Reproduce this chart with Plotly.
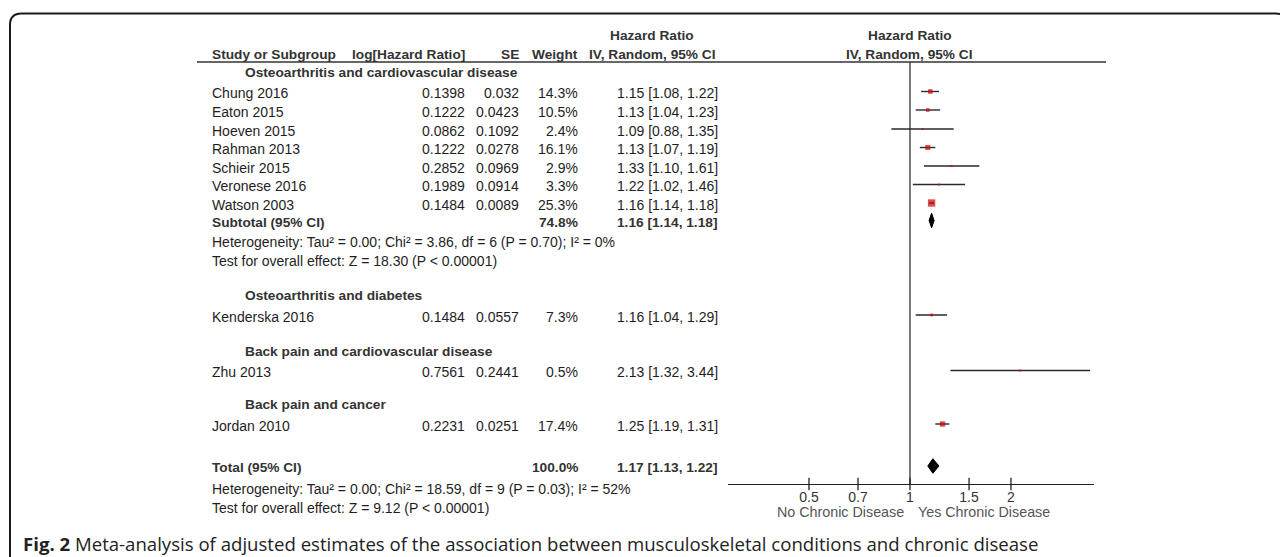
import math
import plotly.graph_objects as go

# ---------------- data ----------------
subgroups = ["Osteoarthritis and cardiovascular disease", "Osteoarthritis and diabetes",
             "Back pain and cardiovascular disease", "Back pain and cancer"]
studies = ["Chung 2016", "Eaton 2015", "Hoeven 2015", "Rahman 2013", "Schieir 2015",
           "Veronese 2016", "Watson 2003", "Kenderska 2016", "Zhu 2013", "Jordan 2010"]
study_group = [0, 0, 0, 0, 0, 0, 0, 1, 2, 3]
log_hr = [0.1398, 0.1222, 0.0862, 0.1222, 0.2852, 0.1989, 0.1484, 0.1484, 0.7561, 0.2231]
se = [0.032, 0.0423, 0.1092, 0.0278, 0.0969, 0.0914, 0.0089, 0.0557, 0.2441, 0.0251]
weight = [14.3, 10.5, 2.4, 16.1, 2.9, 3.3, 25.3, 7.3, 0.5, 17.4]
hr = [1.15, 1.13, 1.09, 1.13, 1.33, 1.22, 1.16, 1.16, 2.13, 1.25]
ci_lo = [1.08, 1.04, 0.88, 1.07, 1.10, 1.02, 1.14, 1.04, 1.32, 1.19]
ci_hi = [1.22, 1.23, 1.35, 1.19, 1.61, 1.46, 1.18, 1.29, 3.44, 1.31]

pooled_labels = ["Subtotal (95% CI)", "Total (95% CI)"]
pooled_weight = [74.8, 100.0]
pooled_hr = [1.16, 1.17]
pooled_lo = [1.14, 1.13]
pooled_hi = [1.18, 1.22]

het_texts = ["Heterogeneity: Tau\u00b2 = 0.00; Chi\u00b2 = 3.86, df = 6 (P = 0.70); I\u00b2 = 0%",
             "Heterogeneity: Tau\u00b2 = 0.00; Chi\u00b2 = 18.59, df = 9 (P = 0.03); I\u00b2 = 52%"]
test_texts = ["Test for overall effect: Z = 18.30 (P < 0.00001)",
              "Test for overall effect: Z = 9.12 (P < 0.00001)"]

tick_vals = [0.5, 0.7, 1, 1.5, 2]
tick_text = ["0.5", "0.7", "1", "1.5", "2"]
favours = ["No Chronic Disease", "Yes Chronic Disease"]
caption_bold = "Fig. 2"
caption = "Meta-analysis of adjusted estimates of the association between musculoskeletal conditions and chronic disease"

# ---------------- layout positions (page pixels) ----------------
W, H = 1288, 557
OFF = 8  # default body margin of the html page
study_y = [91.5, 110, 129, 147.5, 166, 184.5, 203, 315, 370.5, 424]
subgroup_y = [72.7, 295, 351, 404.3]
pooled_y = [220.5, 466]
het_y = [240.3, 487.3]
test_y = [259.3, 506]
hdr1_y, hdr2_y, hdr_line_y = 35, 54, 62
axis_y = 484
x_study, x_sub, x_log, x_se, x_w, x_ci = 210, 243, 467, 521, 579.5, 615
x_hdr_ci = 652
x_plot0, x_plot1 = 728, 1094
log_lo, log_hi = -1.249, 1.263

TFONT = "Liberation Sans, Arial, Helvetica, sans-serif"
TSIZE = 14
BSIZE = 13.7
TCOL = "#1e1e1e"
HCOL = "#333333"

fig = go.Figure()

def txt(x, y, s, anchor="left", bold=False, color=TCOL, size=None, family=TFONT, dy=1.5):
    if size is None:
        size = BSIZE if bold else TSIZE
    fig.add_annotation(x=x, y=y + dy, xref="x", yref="y", text=("<b>%s</b>" % s) if bold else s,
                       showarrow=False, xanchor=anchor, yanchor="middle",
                       font=dict(family=family, size=size, color=color))

# headers
txt(x_hdr_ci, hdr1_y, "Hazard Ratio", "center", True, HCOL, dy=0)
txt(x_study, hdr2_y, "Study or Subgroup", "left", True, HCOL, dy=0)
txt(x_log, hdr2_y, "log[Hazard Ratio]", "right", True, HCOL, dy=0)
txt(x_se, hdr2_y, "SE", "right", True, HCOL, dy=0)
txt(x_w, hdr2_y, "Weight", "right", True, HCOL, dy=0)
txt(x_hdr_ci, hdr2_y, "IV, Random, 95% CI", "center", True, HCOL, dy=0)
x_fp_hdr = x_plot0 + (x_plot1 - x_plot0) * (0 - log_lo) / (log_hi - log_lo)
txt(x_fp_hdr, hdr1_y, "Hazard Ratio", "center", True, HCOL, dy=0)
txt(x_fp_hdr, hdr2_y, "IV, Random, 95% CI", "center", True, HCOL, dy=0)

for g, name in enumerate(subgroups):
    txt(x_sub, subgroup_y[g], name, "left", True, HCOL, dy=0)

for i, s in enumerate(studies):
    y = study_y[i]
    txt(x_study, y, s)
    txt(x_log, y, str(log_hr[i]), "right")
    txt(x_se, y, str(se[i]), "right")
    txt(x_w, y, "%.1f%%" % weight[i], "right")
    txt(x_ci, y, "%.2f [%.2f, %.2f]" % (hr[i], ci_lo[i], ci_hi[i]))

for k in range(2):
    y = pooled_y[k]
    txt(x_study, y, pooled_labels[k], bold=True, color=HCOL)
    txt(x_w, y, "%.1f%%" % pooled_weight[k], "right", True, HCOL)
    txt(x_ci, y, "%.2f [%.2f, %.2f]" % (pooled_hr[k], pooled_lo[k], pooled_hi[k]), bold=True, color=HCOL)
    txt(x_study, het_y[k], het_texts[k])
    txt(x_study, test_y[k], test_texts[k])

# favours labels
for k, lab in enumerate(favours):
    xc = [840, 984][k]
    txt(xc, 512, lab, "center", False, "#555555", size=14.3, dy=0)

# caption
fig.add_annotation(x=21, y=543, xref="x", yref="y", showarrow=False, xanchor="left", yanchor="middle",
                   text="<b>%s</b> %s" % (caption_bold, caption),
                   font=dict(family="Open Sans, Noto Sans, sans-serif", size=18.6, color="#222222"))

# ---------------- forest plot traces ----------------
fig.add_trace(go.Scatter(x=[1, 1], y=[hdr_line_y, axis_y], xaxis="x2", yaxis="y", mode="lines",
                         line=dict(color="#333333", width=1.3), hoverinfo="skip", showlegend=False))
cx, cy = [], []
for i in range(len(studies)):
    cx += [ci_lo[i], ci_hi[i], None]
    cy += [study_y[i], study_y[i], None]
fig.add_trace(go.Scatter(x=cx, y=cy, xaxis="x2", yaxis="y", mode="lines",
                         line=dict(color="#2a2a2a", width=1.4), hoverinfo="skip", showlegend=False))
sizes = [max(2.0, 1.0 + 0.25 * w) for w in weight]
fig.add_trace(go.Scatter(x=hr, y=study_y, xaxis="x2", yaxis="y", mode="markers",
                         marker=dict(symbol="square", size=sizes, color="#cc0000", line=dict(width=0)),
                         hoverinfo="skip", showlegend=False))
dh = [7.3, 7.3]
for k in range(2):
    y = pooled_y[k]
    fig.add_trace(go.Scatter(x=[pooled_lo[k], pooled_hr[k], pooled_hi[k], pooled_hr[k], pooled_lo[k]],
                             y=[y, y - dh[k], y, y + dh[k], y], xaxis="x2", yaxis="y",
                             mode="lines", fill="toself", fillcolor="#000000",
                             line=dict(color="#000000", width=1), hoverinfo="skip", showlegend=False))
fig.add_trace(go.Scatter(x=tick_vals, y=[axis_y] * len(tick_vals), xaxis="x2", yaxis="y", mode="markers",
                         marker=dict(symbol="line-ns-open", size=9, color="#222222",
                                     line=dict(color="#222222", width=1.3)),
                         hoverinfo="skip", showlegend=False))

# ---------------- shapes ----------------
fig.add_shape(type="line", xref="x", yref="y", x0=197, x1=1106, y0=hdr_line_y, y1=hdr_line_y,
              line=dict(color="#333333", width=1.4))
fig.add_shape(type="path", xref="x", yref="y",
              path="M 10,570 L 10,25 Q 10,13.5 21.5,13.5 L 1276,13.5 Q 1287,13.5 1287,25 L 1287,570",
              line=dict(color="#1a1a1a", width=2))

FW, FH = W - OFF, H - OFF
fig.update_layout(
    width=FW, height=FH, margin=dict(l=0, r=0, t=0, b=0),
    paper_bgcolor="white", plot_bgcolor="rgba(0,0,0,0)",
    showlegend=False,
    xaxis=dict(range=[OFF, W], domain=[0, 1], visible=False, fixedrange=True),
    yaxis=dict(range=[H, OFF], domain=[0, 1], visible=False, fixedrange=True),
    xaxis2=dict(type="log", domain=[(x_plot0 - OFF) / FW, (x_plot1 - OFF) / FW],
                range=[log_lo / math.log(10), log_hi / math.log(10)],
                anchor="free", position=1 - (axis_y - OFF) / FH,
                showline=True, linecolor="#222222", linewidth=1.3, showgrid=False, zeroline=False,
                ticks="", tickvals=tick_vals, ticktext=tick_text,
                tickfont=dict(family=TFONT, size=14, color="#333333"), fixedrange=True),
)

fig.write_html("out.html")
